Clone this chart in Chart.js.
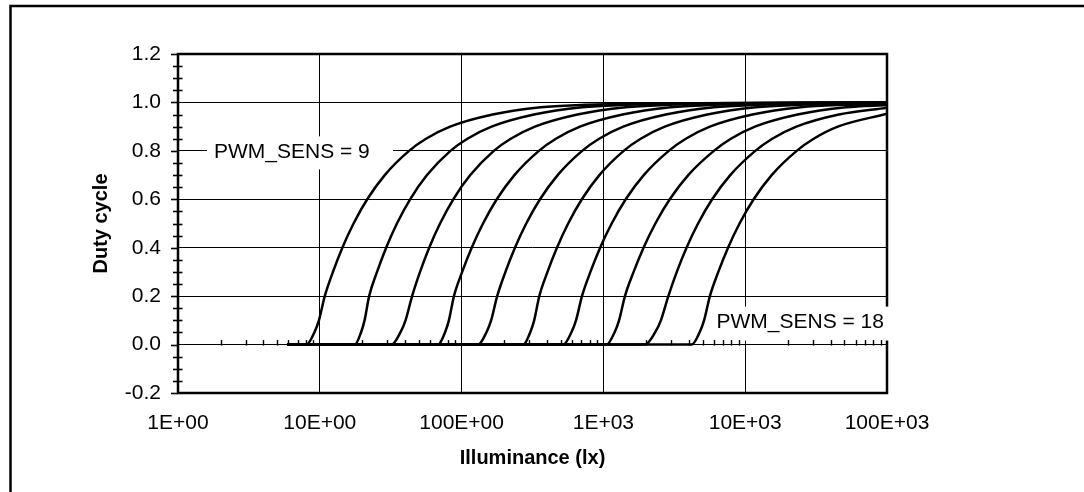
<!DOCTYPE html>
<html>
<head>
<meta charset="utf-8">
<script src="https://cdn.jsdelivr.net/npm/chart.js@4.4.1/dist/chart.umd.min.js"></script>
<style>
  html, body { margin: 0; padding: 0; background: #fff; overflow: hidden; }
  canvas { display: block; }
</style>
</head>
<body>
<canvas id="chart" width="1084" height="492"></canvas>
<script>
const FONT = "'Liberation Sans', Arial, Helvetica, sans-serif";

// Duty cycle vs illuminance, one curve per PWM_SENS setting: [lux, duty]
const sens9  = [[5.9,0],[8.05,0],[9.15,0.05],[9.86,0.1],[10.84,0.2],[12.38,0.3],[14.42,0.4],[17.30,0.5],[21.60,0.6],[28.71,0.7],[42.6,0.8],[56.1,0.85],[83.0,0.9],[165.6,0.95],[362,0.98],[740,0.99],[1476,0.995],[100000,1]];
const sens10 = [[5.9,0],[17.66,0],[19.52,0.05],[20.69,0.1],[22.28,0.2],[25.33,0.3],[29.37,0.4],[34.99,0.5],[43.34,0.6],[57.02,0.7],[83.4,0.8],[109.9,0.85],[162.6,0.9],[324,0.95],[710,0.98],[1449,0.99],[2891,0.995],[100000,1]];
const sens11 = [[5.9,0],[32.06,0],[37.02,0.05],[40.24,0.1],[44.77,0.2],[50.92,0.3],[59.07,0.4],[70.47,0.5],[87.36,0.6],[115.1,0.7],[168.7,0.8],[222.3,0.85],[328.9,0.9],[656,0.95],[1436,0.98],[2931,0.99],[5848,0.995],[100000,1]];
const sens12 = [[5.9,0],[68.39,0],[76.32,0.05],[81.37,0.1],[88.31,0.2],[100.9,0.3],[117.8,0.4],[141.6,0.5],[177.0,0.6],[235.8,0.7],[350.8,0.8],[462.4,0.85],[683.9,0.9],[1365,0.95],[2985,0.98],[6095,0.99],[12160,0.995],[100000,0.999]];
const sens13 = [[5.9,0],[130.9,0],[149.5,0.05],[161.5,0.1],[178.2,0.2],[203.8,0.3],[237.8,0.4],[285.7,0.5],[357.2,0.6],[475.9,0.7],[707.9,0.8],[933.3,0.85],[1380,0.9],[2754,0.95],[6026,0.98],[12300,0.99],[24550,0.995],[100000,0.998]];
const sens14 = [[5.9,0],[272.3,0],[304.5,0.05],[325.0,0.1],[353.2,0.2],[403.4,0.3],[470.3,0.4],[564.4,0.5],[704.6,0.6],[936.6,0.7],[1390,0.8],[1832,0.85],[2710,0.9],[5408,0.95],[11830,0.98],[24150,0.99],[48190,0.995],[100000,0.997]];
const sens15 = [[5.9,0],[521.2,0],[594.0,0.05],[641.0,0.1],[706.3,0.2],[809.9,0.3],[948.2,0.4],[1144,0.5],[1437,0.6],[1926,0.7],[2891,0.8],[3811,0.85],[5636,0.9],[11250,0.95],[24600,0.98],[50230,0.99],[100000,0.994]];
const sens16 = [[5.9,0],[1054,0],[1198,0.05],[1290,0.1],[1419,0.2],[1633,0.3],[1919,0.4],[2325,0.5],[2938,0.6],[3966,0.7],[6012,0.8],[7925,0.85],[11720,0.9],[23390,0.95],[51170,0.98],[100000,0.989]];
const sens17 = [[5.9,0],[1968,0],[2315,0.05],[2544,0.1],[2871,0.2],[3293,0.3],[3856,0.4],[4652,0.5],[5848,0.6],[7845,0.7],[11780,0.8],[15520,0.85],[22960,0.9],[45810,0.95],[100000,0.978]];
const sens18 = [[5.9,0],[4198,0],[4764,0.05],[5129,0.1],[5636,0.2],[6463,0.3],[7568,0.4],[9124,0.5],[11470,0.6],[15370,0.7],[23070,0.8],[30410,0.85],[44980,0.9],[100000,0.953]];

const seriesNames = ['PWM_SENS = 9','PWM_SENS = 10','PWM_SENS = 11','PWM_SENS = 12','PWM_SENS = 13',
                     'PWM_SENS = 14','PWM_SENS = 15','PWM_SENS = 16','PWM_SENS = 17','PWM_SENS = 18'];
const seriesData = [sens9, sens10, sens11, sens12, sens13, sens14, sens15, sens16, sens17, sens18];

const xTickValues = [1, 10, 100, 1000, 10000, 100000];
const xTickLabels = ['1E+00', '10E+00', '100E+00', '1E+03', '10E+03', '100E+03'];
const yTickValues = [-0.2, 0, 0.2, 0.4, 0.6, 0.8, 1.0, 1.2];
const yTickLabels = ['-0.2', '0.0', '0.2', '0.4', '0.6', '0.8', '1.0', '1.2'];

const xTitle = 'Illuminance (lx)';
const yTitle = 'Duty cycle';

// Callout texts for the first and last curve
const lowLabel  = seriesNames[0];
const highLabel = seriesNames[seriesNames.length - 1];

Chart.defaults.font.family = FONT;
Chart.defaults.color = '#000';

const decorations = {
  id: 'decorations',
  beforeDraw(chart) {
    const ctx = chart.ctx;
    ctx.save();
    ctx.fillStyle = '#fff';
    ctx.fillRect(0, 0, chart.width, chart.height);
    // outer figure frame (left and top edges)
    ctx.strokeStyle = '#000';
    ctx.lineWidth = 2.5;
    ctx.beginPath();
    ctx.moveTo(10.5, chart.height);
    ctx.lineTo(10.5, 6);
    ctx.lineTo(chart.width, 6);
    ctx.stroke();
    ctx.restore();
  },
  beforeDatasetsDraw(chart) {
    const ctx = chart.ctx;
    const a = chart.chartArea;
    const ys = chart.scales.y;
    ctx.save();

    // plot border
    ctx.strokeStyle = '#000';
    ctx.lineWidth = 2.5;
    ctx.strokeRect(a.left, a.top, a.right - a.left, a.bottom - a.top);

    // callouts, boxed in white so grid and border lines stop short of the text
    ctx.font = '21px ' + FONT;
    ctx.textBaseline = 'middle';
    ctx.textAlign = 'left';

    const y8 = ys.getPixelForValue(0.8);
    ctx.fillStyle = '#fff';
    ctx.fillRect(207, y8 - 14.5, 186, 33);
    ctx.fillStyle = '#000';
    ctx.fillText(lowLabel, 214, y8 + 1);

    const yl = ys.getPixelForValue(0.095);
    ctx.fillStyle = '#fff';
    ctx.fillRect(711, yl - 15, 184, 34);
    ctx.fillStyle = '#000';
    ctx.fillText(highLabel, 716.5, yl + 1);

    ctx.restore();
  },
  afterDatasetsDraw(chart) {
    const ctx = chart.ctx;
    const a = chart.chartArea;
    const xs = chart.scales.x, ys = chart.scales.y;
    ctx.save();
    ctx.strokeStyle = '#000';

    // y axis ticks: major outside, minor crossing the axis
    ctx.lineWidth = 1.6;
    for (let i = 0; i <= 28; i++) {
      const y = Math.round(ys.getPixelForValue(-0.2 + i * 0.05)) + 0.5;
      ctx.beginPath();
      if (i % 4 === 0) { ctx.moveTo(a.left - 7, y); ctx.lineTo(a.left, y); }
      else { ctx.moveTo(a.left - 5, y); ctx.lineTo(a.left + 4.5, y); }
      ctx.stroke();
    }

    // minor log ticks along the zero line
    const y0 = ys.getPixelForValue(0);
    ctx.lineWidth = 1.4;
    for (let d = 1; d <= 10000; d *= 10) {
      for (let k = 2; k <= 9; k++) {
        const x = Math.round(xs.getPixelForValue(k * d)) + 0.5;
        ctx.beginPath();
        ctx.moveTo(x, y0 - 4.5);
        ctx.lineTo(x, y0 + 1);
        ctx.stroke();
      }
    }
    ctx.restore();
  }
};

new Chart(document.getElementById('chart'), {
  type: 'line',
  data: {
    datasets: seriesData.map((pts, i) => ({
      label: seriesNames[i],
      data: pts.map(([x, y]) => ({ x, y })),
      borderColor: '#000',
      borderWidth: 2.5,
      pointRadius: 0,
      fill: false,
      cubicInterpolationMode: 'monotone'
    }))
  },
  options: {
    responsive: false,
    animation: false,
    events: [],
    layout: { padding: { left: 0, top: 54, right: 197, bottom: 0 } },
    plugins: { legend: { display: false }, tooltip: { enabled: false } },
    scales: {
      x: {
        type: 'logarithmic',
        min: 1,
        max: 100000,
        afterBuildTicks: s => { s.ticks = xTickValues.map(v => ({ value: v })); },
        afterFit: s => { s.height = 99; },
        grid: { color: '#000', lineWidth: 1, drawTicks: false },
        border: { display: false },
        ticks: {
          autoSkip: false, maxRotation: 0, minRotation: 0, padding: 18,
          font: { size: 21 }, color: '#000',
          callback: (v, i) => xTickLabels[i]
        },
        title: {
          display: true, text: xTitle, color: '#000',
          font: { size: 20, weight: 'bold' },
          padding: { top: 0, bottom: 22 }
        }
      },
      y: {
        type: 'linear',
        min: -0.2,
        max: 1.2,
        afterBuildTicks: s => { s.ticks = yTickValues.map(v => ({ value: v })); },
        afterFit: s => { s.width = 178; },
        grid: { color: '#000', lineWidth: 1, drawTicks: false },
        border: { display: false },
        ticks: {
          padding: 17, font: { size: 21 }, color: '#000',
          callback: (v, i) => yTickLabels[i]
        },
        title: {
          display: true, text: yTitle, color: '#000',
          font: { size: 20, weight: 'bold' },
          padding: { top: 89, bottom: 0 }
        }
      }
    }
  },
  plugins: [decorations]
});
</script>
</body>
</html>
